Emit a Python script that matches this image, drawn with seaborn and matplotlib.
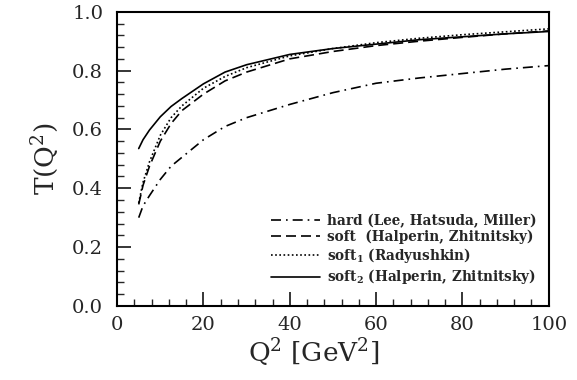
import matplotlib
matplotlib.use("Agg")
import matplotlib.pyplot as plt
import seaborn as sns
import pandas as pd
from matplotlib.ticker import MultipleLocator

Q2 = [5, 6, 7.5, 10, 12.5, 15, 20, 25, 30, 40, 50, 60, 70, 80, 90, 100]
hard = [0.30, 0.34, 0.375, 0.43, 0.475, 0.505, 0.565, 0.61, 0.64, 0.685, 0.725, 0.757, 0.775, 0.79, 0.805, 0.817]
soft = [0.345, 0.41, 0.475, 0.56, 0.62, 0.664, 0.72, 0.765, 0.795, 0.84, 0.865, 0.885, 0.90, 0.913, 0.925, 0.935]
soft1 = [0.35, 0.42, 0.49, 0.58, 0.64, 0.68, 0.74, 0.78, 0.81, 0.85, 0.875, 0.895, 0.91, 0.922, 0.932, 0.942]
soft2 = [0.535, 0.565, 0.598, 0.643, 0.678, 0.705, 0.755, 0.795, 0.82, 0.855, 0.875, 0.89, 0.905, 0.915, 0.925, 0.933]

xticks = [0, 20, 40, 60, 80, 100]
xticklabels = ["0", "20", "40", "60", "80", "100"]
yticks = [0.0, 0.2, 0.4, 0.6, 0.8, 1.0]
yticklabels = ["0.0", "0.2", "0.4", "0.6", "0.8", "1.0"]

labels = ["hard (Lee, Hatsuda, Miller)",
          "soft  (Halperin, Zhitnitsky)",
          r"soft$_\mathbf{1}$ (Radyushkin)",
          r"soft$_\mathbf{2}$ (Halperin, Zhitnitsky)"]
series = [hard, soft, soft1, soft2]
styles = [(0, (6, 3, 1, 3)), (0, (6, 3)), (0, (1, 1.5)), "-"]

sns.set_theme(style="ticks")
plt.rcParams["font.family"] = ["DejaVu Serif"]
plt.rcParams["mathtext.fontset"] = "dejavuserif"

fig = plt.figure(figsize=(5.77, 3.80), dpi=100)
ax = fig.add_axes([0.203, 0.195, 0.748, 0.774])

for vals, lab, ls in zip(series, labels, styles):
    df = pd.DataFrame({"Q2": Q2, "T": vals})
    sns.lineplot(data=df, x="Q2", y="T", ax=ax, color="black", linewidth=1.2,
                 linestyle=ls, label=lab)

ax.set_xlim(0, 100)
ax.set_ylim(0, 1.0)
ax.set_xticks(xticks)
ax.set_xticklabels(xticklabels)
ax.set_yticks(yticks)
ax.set_yticklabels(yticklabels)
ax.xaxis.set_minor_locator(MultipleLocator(4))
ax.yaxis.set_minor_locator(MultipleLocator(0.04))
ax.tick_params(which="major", direction="in", length=10, width=1.3, labelsize=14,
               top=False, right=False)
ax.tick_params(axis="y", which="major", pad=10)
ax.tick_params(axis="x", which="major", pad=7)
ax.tick_params(which="minor", direction="in", length=5, width=1.0, top=False, right=False)
for s in ax.spines.values():
    s.set_linewidth(1.5)
    s.set_color("black")

ax.set_xlabel(r"Q$^2$ [GeV$^2$]", fontsize=19, labelpad=3)
ax.xaxis.set_label_coords(0.455, -0.105, transform=ax.transAxes)
ax.xaxis.label.set_va("top")
ax.set_ylabel(r"T(Q$^2$)", fontsize=19, labelpad=8)

leg = ax.legend(loc="lower right", bbox_to_anchor=(1.0, 0.025), frameon=False,
                handlelength=3.6, handletextpad=0.5, labelspacing=0.15,
                prop={"family": "DejaVu Serif", "weight": "bold", "size": 9.8})

fig.savefig("out.png", dpi=100)
